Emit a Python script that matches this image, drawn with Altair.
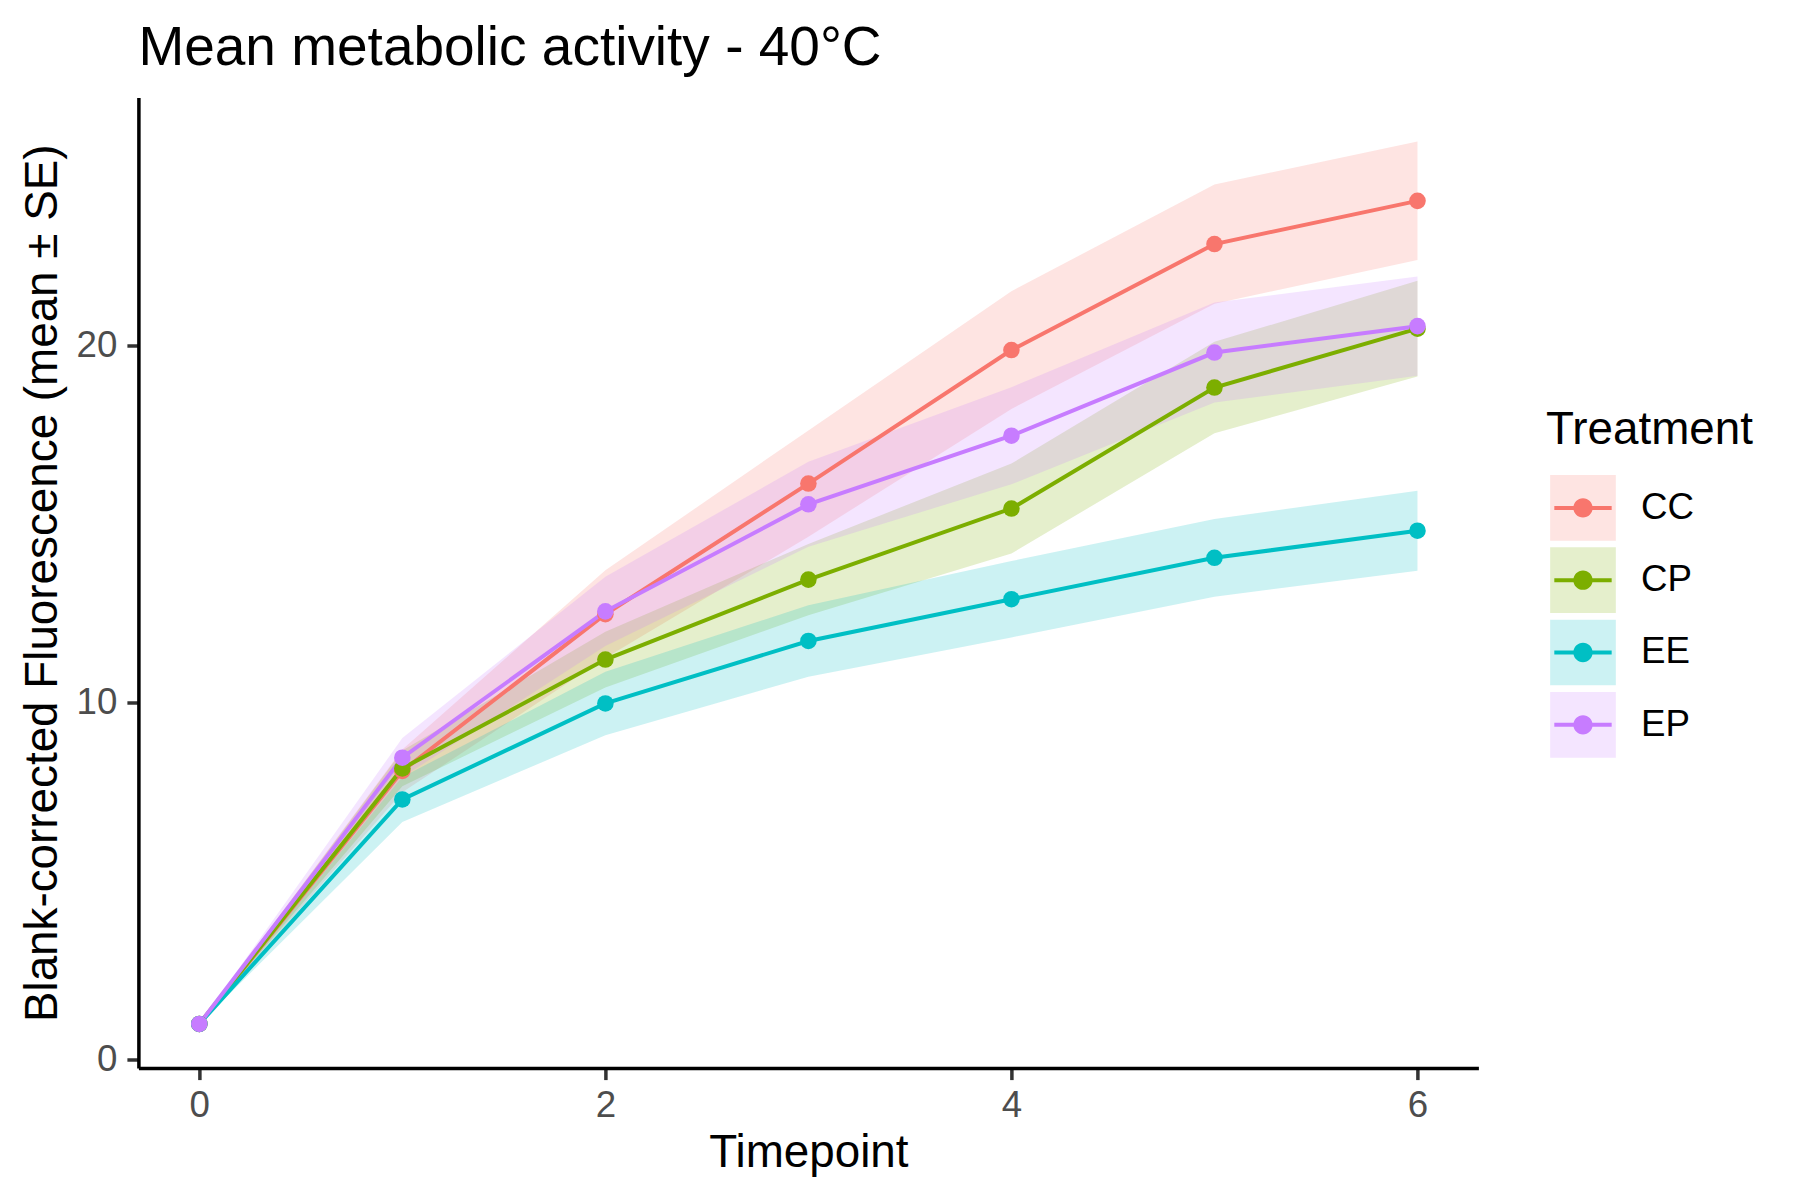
import altair as alt
import pandas as pd

# ---- data ----
timepoints = [0, 1, 2, 3, 4, 5, 6]
treatments = ["CC", "CP", "EE", "EP"]
colors = ["#F8766D", "#7CAE00", "#00BFC4", "#C77CFF"]

cc_mean = [1.0, 8.09, 12.48, 16.14, 19.88, 22.85, 24.06]
cc_se = [0.0, 0.60, 1.23, 1.49, 1.65, 1.67, 1.66]
cp_mean = [1.0, 8.16, 11.21, 13.45, 15.44, 18.83, 20.48]
cp_se = [0.0, 0.50, 0.78, 1.00, 1.26, 1.28, 1.34]
ee_mean = [1.0, 7.29, 9.98, 11.73, 12.90, 14.06, 14.82]
ee_se = [0.0, 0.63, 0.89, 1.00, 1.07, 1.09, 1.12]
ep_mean = [1.0, 8.46, 12.56, 15.56, 17.48, 19.81, 20.55]
ep_se = [0.0, 0.55, 0.97, 1.19, 1.36, 1.40, 1.39]

x_ticks = [0, 2, 4, 6]
y_ticks = [0, 10, 20]

means = [cc_mean, cp_mean, ee_mean, ep_mean]
ses = [cc_se, cp_se, ee_se, ep_se]
rows = []
for trt, m_list, s_list in zip(treatments, means, ses):
    for t, m, s in zip(timepoints, m_list, s_list):
        rows.append({"Treatment": trt, "Timepoint": t, "mean": m,
                     "lower": m - s, "upper": m + s})
df = pd.DataFrame(rows)

FONT = "Liberation Sans"

x_enc = alt.X(
    "Timepoint:Q",
    scale=alt.Scale(domain=[-0.3, 6.3], nice=False, zero=False),
    axis=alt.Axis(values=x_ticks, title="Timepoint", format="d",
                  labelPadding=8, titlePadding=6),
)
y_scale = alt.Scale(domain=[-0.236, 26.956], nice=False, zero=False)
y_axis = alt.Axis(values=y_ticks, title="Blank-corrected Fluorescence (mean \u00b1 SE)",
                  format="d", labelPadding=10, titlePadding=10)

LEG_X = 1407.6
LEG_Y = 310.6
common_leg = dict(
    orient="none", legendX=LEG_X, legendY=LEG_Y, padding=0,
    title="Treatment", titleFont=FONT, titleFontSize=45.8, titleFontWeight="normal",
    titleColor="black", titlePadding=21, titleLimit=0,
    labelFont=FONT, labelFontSize=36.7, labelColor="black", labelOffset=25, labelLimit=0,
    symbolSize=4316, symbolStrokeWidth=0, symbolOffset=4, rowPadding=6.3,
)

key_path = ("M-1,-1L-1,-1M1,1L1,1"
            "M-0.873,-0.061H0.873V0.061H-0.873Z"
            "M0,-0.294A0.294,0.294,0,1,1,0,0.294A0.294,0.294,0,1,1,0,-0.294Z")

band = alt.Chart(df).mark_area(opacity=0.2).encode(
    x=x_enc,
    y=alt.Y("lower:Q", scale=y_scale, axis=y_axis),
    y2="upper:Q",
    fill=alt.Fill("Treatment:N", scale=alt.Scale(domain=treatments, range=colors),
                  legend=alt.Legend(symbolType="square", symbolOpacity=0.2, **common_leg)),
)

line = alt.Chart(df).mark_line(strokeWidth=4).encode(
    x=x_enc,
    y=alt.Y("mean:Q", scale=y_scale),
    color=alt.Color("Treatment:N", scale=alt.Scale(range=colors), legend=None),
)

points = alt.Chart(df).mark_circle(size=275, opacity=1).encode(
    x=x_enc,
    y=alt.Y("mean:Q", scale=y_scale),
    color=alt.Color("Treatment:N", scale=alt.Scale(range=colors),
                    legend=alt.Legend(symbolType=key_path, symbolOpacity=1,
                                      titleOpacity=0, labelOpacity=0, **common_leg)),
)

chart = alt.layer(band, line, points).resolve_legend(color="independent", fill="independent").properties(
    width=1340,
    height=970.6,
    autosize="none",
    background="white",
    padding={"left": 130.4, "top": 89.5, "right": 300, "bottom": 118},
    title=alt.TitleParams("Mean metabolic activity - 40\u00b0C", anchor="start", frame="group",
                          font=FONT, fontSize=55, fontWeight="normal", color="black",
                          offset=20.5),
).configure_view(stroke=None).configure_axis(
    grid=False,
    domainColor="black", domainWidth=3.5,
    tickColor="#333333", tickWidth=3.5, tickSize=11.5,
    labelFont=FONT, labelFontSize=36.7, labelColor="#4D4D4D",
    titleFont=FONT, titleFontSize=45.8, titleFontWeight="normal", titleColor="black",
)

chart.save("out.html", embed_options={"renderer": "svg", "actions": False})
